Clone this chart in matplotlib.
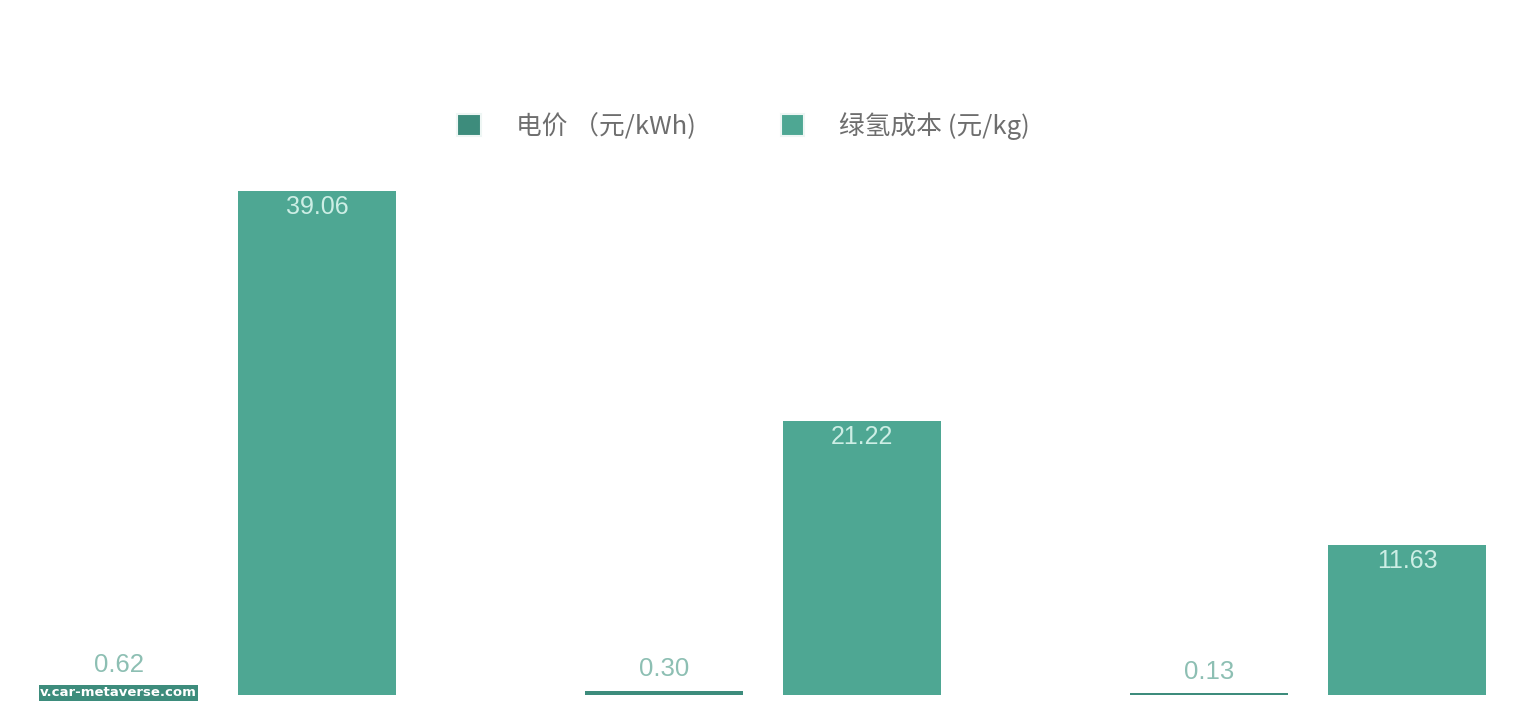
import matplotlib.pyplot as plt
import numpy as np

# data
groups = ['A', 'B', 'C']
power_price = [0.62, 0.30, 0.13]      # 电价 (元/kWh)
h2_cost = [39.06, 21.22, 11.63]       # 绿氢成本 (元/kg)
series_names = ['电价 （元/kWh)', '绿氢成本 (元/kg)']

dark = '#3d8c7c'
light = '#4ea793'
label_dark = '#8dbfb3'
label_light = '#cdeee5'

plt.rcParams['font.family'] = ['Liberation Sans', 'Noto Sans CJK SC', 'DejaVu Sans']

fig = plt.figure(figsize=(15.3, 7.24), dpi=100)
ax = fig.add_axes([0, 0, 1, 1])

x = np.arange(len(groups))
width = 0.29
offset = 0.1817

b1 = ax.bar(x - offset, power_price, width, color=dark, label=series_names[0])
b2 = ax.bar(x + offset, h2_cost, width, color=light, label=series_names[1])

for rect, v in zip(b1, power_price):
    ax.annotate(f'{v:.2f}', (rect.get_x() + rect.get_width() / 2, v),
                xytext=(0, 7), textcoords='offset points',
                ha='center', va='bottom', fontsize=18.5, color=label_dark)
for rect, v in zip(b2, h2_cost):
    ax.annotate(f'{v:.2f}', (rect.get_x() + rect.get_width() / 2, v),
                xytext=(0, -3), textcoords='offset points',
                ha='center', va='top', fontsize=18, color=label_light)

# px = 218 + 545 * x ; baseline at 29 px from bottom, 12.9 px per unit
ax.set_xlim(-218 / 545, (1530 - 218) / 545)
ax.set_ylim(-29 / 12.9, (724 - 29) / 12.9)
ax.axis('off')

leg = ax.legend(ncol=2, loc='center', bbox_to_anchor=(0.486, 0.826),
                bbox_transform=fig.transFigure, frameon=False,
                prop={'family': ['Noto Sans CJK SC', 'DejaVu Sans'], 'size': 18.5},
                handlelength=0.93, handleheight=0.93, handletextpad=1.36,
                columnspacing=3.3, labelcolor='#6e6e6e')
for h in leg.legend_handles:
    h.set_edgecolor('#eef6f4')
    h.set_linewidth(1.5)

# watermark
ax.text(40 / 1530, 1 - 693 / 724, 'v.car-metaverse.com', transform=fig.transFigure,
        ha='left', va='center', fontsize=9.5, fontweight='bold', color='white',
        family=['DejaVu Sans'],
        bbox=dict(boxstyle='square,pad=0.1', facecolor=dark, edgecolor='none'))

fig.savefig('out.png', dpi=100, facecolor='white')
